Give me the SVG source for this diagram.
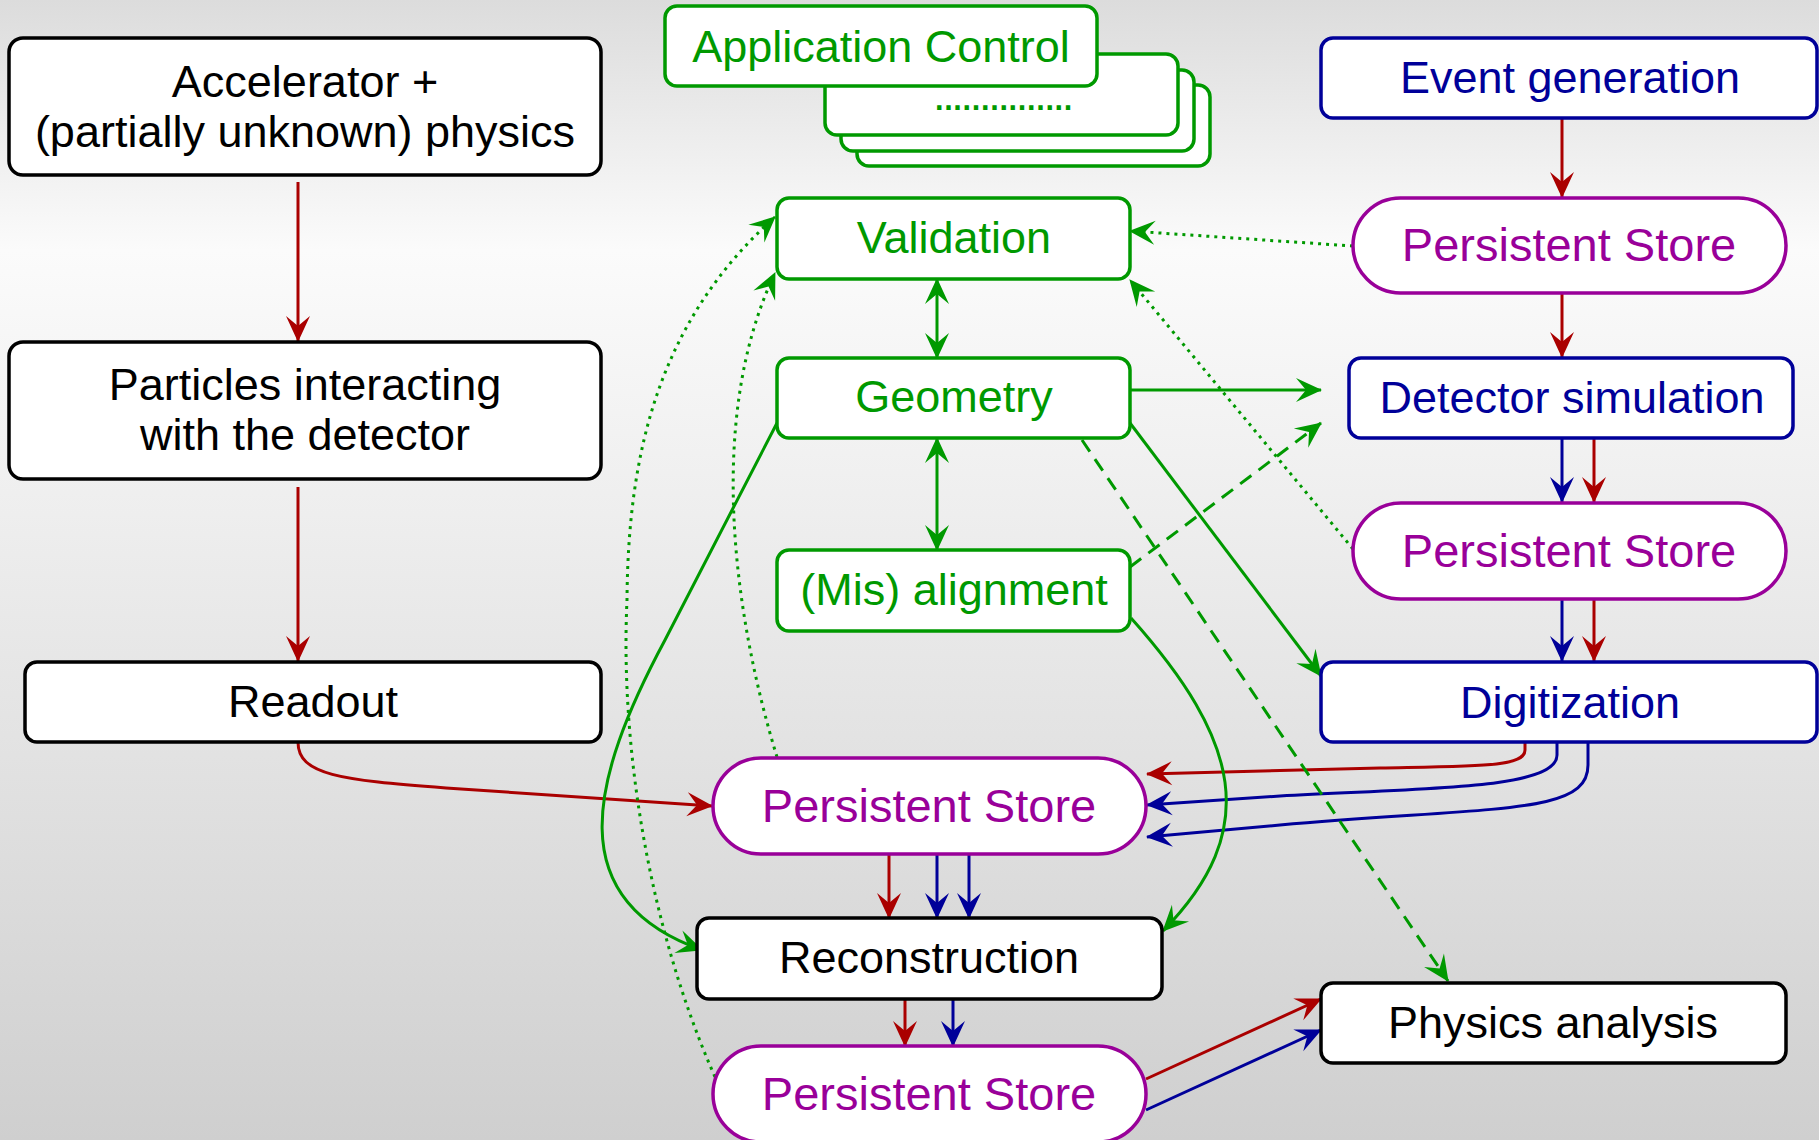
<svg xmlns="http://www.w3.org/2000/svg" width="1819" height="1140" viewBox="0 0 1819 1140">
<defs>
<linearGradient id="bg" x1="0" y1="0" x2="0" y2="1">
<stop offset="0" stop-color="#dcdcdc"/>
<stop offset="0.22" stop-color="#fbfbfb"/>
<stop offset="1" stop-color="#cfcfcf"/>
</linearGradient>
<marker id="mr" viewBox="-27 -14 29 28" refX="0" refY="0" markerWidth="29" markerHeight="28" markerUnits="userSpaceOnUse" orient="auto-start-reverse"><path d="M1,0 L-25,-12 L-15,0 L-25,12 Z" fill="#aa0000"/></marker>
<marker id="mb" viewBox="-27 -14 29 28" refX="0" refY="0" markerWidth="29" markerHeight="28" markerUnits="userSpaceOnUse" orient="auto-start-reverse"><path d="M1,0 L-25,-12 L-15,0 L-25,12 Z" fill="#000099"/></marker>
<marker id="mg" viewBox="-27 -14 29 28" refX="0" refY="0" markerWidth="29" markerHeight="28" markerUnits="userSpaceOnUse" orient="auto-start-reverse"><path d="M1,0 L-25,-12 L-15,0 L-25,12 Z" fill="#009900"/></marker>
</defs>
<style>
text{font-family:"Liberation Sans",Arial,sans-serif;font-size:45px;text-anchor:middle}
.box{fill:#fff;stroke-width:3.5}
.k{stroke:#000}.kt{fill:#000}
.g{stroke:#009900}.gt{fill:#009900}
.b{stroke:#000099}.bt{fill:#000099}
.p{stroke:#990099}.pt{fill:#990099;font-size:47px}
.c{fill:none;stroke-width:3}
.cr{stroke:#aa0000;marker-end:url(#mr)}
.cb{stroke:#000099;marker-end:url(#mb)}
.cg{stroke:#009900;marker-end:url(#mg)}
.dot{stroke-dasharray:3 5}
.dash{stroke-dasharray:14 9}
</style>
<rect x="0" y="0" width="1819" height="1140" fill="url(#bg)"/>

<g id="connectors">
<path class="c cr" d="M298 182 L298 341"/>
<path class="c cr" d="M298 487 L298 661"/>
<path class="c cr" d="M298 742 C298 775 340 780 446 788 L712 806"/>
<path class="c cr" d="M1562 118 L1562 197"/>
<path class="c cr" d="M1562 293 L1562 357"/>
<path class="c cb" d="M1562 438 L1562 502"/>
<path class="c cr" d="M1594 438 L1594 502"/>
<path class="c cb" d="M1562 599 L1562 661"/>
<path class="c cr" d="M1594 599 L1594 661"/>
<path class="c cr" d="M1525 742 L1525 750 C1525 767 1480 766 1380 768 L1147 774"/>
<path class="c cb" d="M1557 742 L1557 755 C1557 790 1420 788 1280 796 L1147 805"/>
<path class="c cb" d="M1588 742 L1588 765 C1588 815 1500 806 1280 825 L1147 837"/>
<path class="c cr" d="M889 853 L889 918"/>
<path class="c cb" d="M937 853 L937 918"/>
<path class="c cb" d="M969 853 L969 918"/>
<path class="c cr" d="M905 999 L905 1046"/>
<path class="c cb" d="M953 999 L953 1046"/>
<path class="c cr" d="M1146 1079 L1321 999"/>
<path class="c cb" d="M1146 1110 L1321 1030"/>
<path class="c cg" style="marker-start:url(#mg)" d="M937 279 L937 358"/>
<path class="c cg" style="marker-start:url(#mg)" d="M937 438 L937 550"/>
<path class="c cg" d="M1130 390 L1321 390"/>
<path class="c cg dash" d="M1130 567 L1321 423"/>
<path class="c cg" d="M1130 423 L1321 676"/>
<path class="c cg dash" d="M1082 440 L1448 981"/>
<path class="c cg dot" d="M1353 246 L1130 231"/>
<path class="c cg dot" d="M1353 549 L1130 280"/>
<path class="c cg dot" d="M777 757 C735 620 705 420 775 273"/>
<path class="c cg dot" d="M715 1077 C650 930 620 750 627 600 C628 450 660 320 775 217"/>
<path class="c cg" d="M777 423 L665 640 C590 780 560 900 702 950"/>
<path class="c cg" d="M1131 618 C1240 740 1262 830 1163 931"/>
</g>

<g id="accelerator"><rect class="box k" x="9" y="38" width="592" height="137" rx="14"/><text class="kt" x="305" y="97">Accelerator +</text><text class="kt" x="305" y="147">(partially unknown) physics</text></g>
<g id="particles"><rect class="box k" x="9" y="342" width="592" height="137" rx="14"/><text class="kt" x="305" y="400">Particles interacting</text><text class="kt" x="305" y="450">with the detector</text></g>
<g id="readout"><rect class="box k" x="25" y="662" width="576" height="80" rx="12"/><text class="kt" x="313" y="717">Readout</text></g>

<g id="app-control">
<rect class="box g" x="857" y="85" width="353" height="81" rx="12"/>
<rect class="box g" x="841" y="70" width="353" height="81" rx="12"/>
<rect class="box g" x="825" y="54" width="353" height="81" rx="12"/>
<text class="gt" x="1002" y="110" style="letter-spacing:-3.3px">...............</text>
<rect class="box g" x="665" y="6" width="432" height="80" rx="12"/>
<text class="gt" x="881" y="62">Application Control</text>
</g>

<g id="validation"><rect class="box g" x="777" y="198" width="353" height="81" rx="12"/><text class="gt" x="954" y="253">Validation</text></g>
<g id="geometry"><rect class="box g" x="777" y="358" width="353" height="80" rx="12"/><text class="gt" x="954" y="412">Geometry</text></g>
<g id="misalignment"><rect class="box g" x="777" y="550" width="353" height="81" rx="12"/><text class="gt" x="954" y="605">(Mis) alignment</text></g>

<g id="event-generation"><rect class="box b" x="1321" y="38" width="496" height="80" rx="12"/><text class="bt" x="1570" y="93">Event generation</text></g>
<g id="store-1"><rect class="box p" x="1353" y="198" width="433" height="95" rx="47.5"/><text class="pt" x="1569" y="261">Persistent Store</text></g>
<g id="detector-simulation"><rect class="box b" x="1349" y="358" width="444" height="80" rx="12"/><text class="bt" x="1572" y="413">Detector simulation</text></g>
<g id="store-2"><rect class="box p" x="1353" y="503" width="433" height="96" rx="48"/><text class="pt" x="1569" y="567">Persistent Store</text></g>
<g id="digitization"><rect class="box b" x="1321" y="662" width="496" height="80" rx="12"/><text class="bt" x="1570" y="718">Digitization</text></g>
<g id="physics-analysis"><rect class="box k" x="1321" y="983" width="465" height="80" rx="12"/><text class="kt" x="1553" y="1038">Physics analysis</text></g>

<g id="store-3"><rect class="box p" x="713" y="758" width="433" height="96" rx="48"/><text class="pt" x="929" y="822">Persistent Store</text></g>
<g id="reconstruction"><rect class="box k" x="697" y="918" width="465" height="81" rx="12"/><text class="kt" x="929" y="973">Reconstruction</text></g>
<g id="store-4"><rect class="box p" x="713" y="1046" width="433" height="96" rx="48"/><text class="pt" x="929" y="1110">Persistent Store</text></g>
</svg>
